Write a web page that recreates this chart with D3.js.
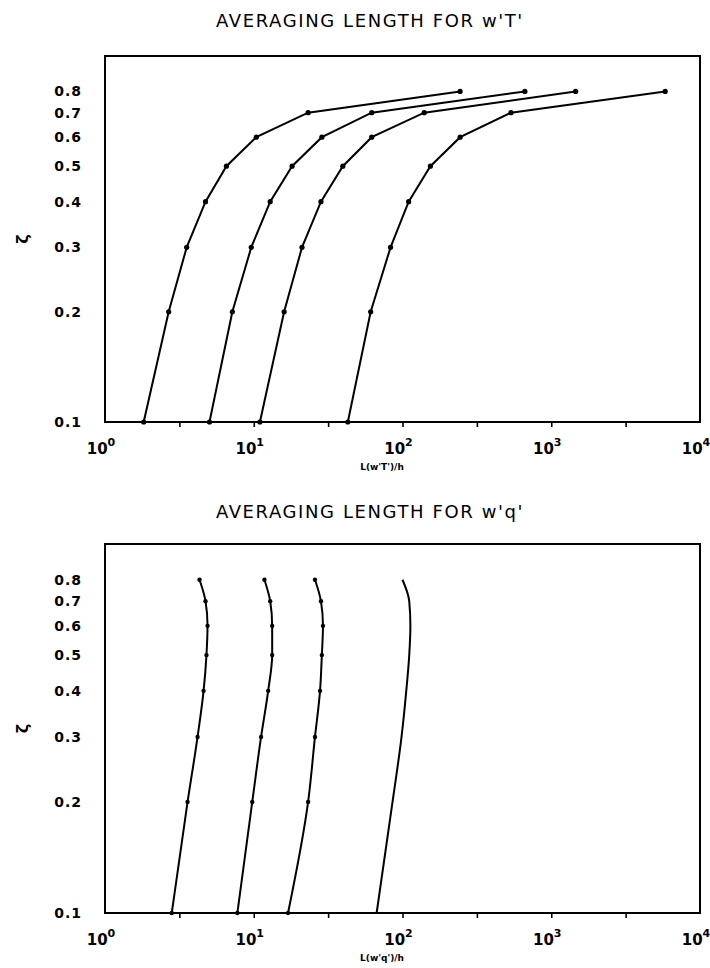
<!DOCTYPE html>
<html>
<head>
<meta charset="utf-8">
<script src="https://cdn.jsdelivr.net/npm/d3@7"></script>
<style>
  body { margin: 0; background: #fff; }
  svg { display: block; }
</style>
</head>
<body>
<div id="chart"></div>
<script>

// heights (xi) where the lengths were computed
var xiLevels = [0.1, 0.2, 0.3, 0.4, 0.5, 0.6, 0.7, 0.8];

// averaging length L(w'T')/h, one array per curve
var wtSeries1 = [1.82, 2.68, 3.54, 4.74, 6.55, 10.4, 23.2, 244];
var wtSeries2 = [5.04, 7.18, 9.62, 12.9, 18.1, 28.7, 62.1, 665];
var wtSeries3 = [11.0, 16.0, 21.1, 28.3, 39.7, 62.1, 140, 1459];
var wtSeries4 = [42.9, 61.1, 83.1, 110, 154, 244, 536, 5834];

// averaging length L(w'q')/h
var wqSeries1 = [2.81, 3.59, 4.19, 4.60, 4.81, 4.89, 4.74, 4.32];
var wqSeries2 = [7.76, 9.77, 11.2, 12.5, 13.3, 13.3, 12.9, 11.8];
var wqSeries3 = [17.0, 23.2, 25.8, 27.9, 28.7, 29.2, 28.3, 25.8];
var wqSeries4 = [67.0, 85.7, 98.5, 106, 111, 113, 111, 100];

var yTickLabels = [0.1, 0.2, 0.3, 0.4, 0.5, 0.6, 0.7, 0.8];
var xDecades = [0, 1, 2, 3, 4];
var xMinorTicks = [3.162, 10, 31.62, 100, 316.2, 1000, 3162];

var svgWidth = 710;
var svgHeight = 968;

var svg = d3.select("#chart")
    .append("svg")
    .attr("width", svgWidth)
    .attr("height", svgHeight);

var left = 105;
var right = 700;

function drawPanel(opts) {

    var xScale = d3.scaleLog()
        .domain([1, 1e4])
        .range([left, right]);

    var yScale = d3.scaleLog()
        .domain([0.1, 1])
        .range([opts.bottom, opts.top]);

    var g = svg.append("g");

    g.append("text")
        .attr("x", opts.titleX)
        .attr("y", opts.titleY)
        .attr("text-anchor", "middle")
        .attr("font-family", "DejaVu Sans")
        .attr("font-size", 18)
        .attr("letter-spacing", 1.6)
        .text(opts.title);

    // frame
    g.append("rect")
        .attr("x", left)
        .attr("y", opts.top)
        .attr("width", right - left)
        .attr("height", opts.bottom - opts.top)
        .attr("fill", "none")
        .attr("stroke", "#000")
        .attr("stroke-width", 2);

    var bottomAxis = d3.axisBottom(xScale)
        .tickValues(xMinorTicks)
        .tickSize(5)
        .tickFormat("");

    var xAxis = g.append("g")
        .attr("transform", `translate(0, ${opts.bottom})`)
        .call(bottomAxis);
    xAxis.select(".domain").remove();
    xAxis.selectAll("line").attr("stroke-width", 1.6);

    var xLabels = g.selectAll(null)
        .data(xDecades)
        .enter()
        .append("text")
        .attr("x", d => xScale(Math.pow(10, d)) - 4)
        .attr("y", opts.bottom + 32)
        .attr("text-anchor", "middle")
        .attr("font-family", "DejaVu Sans")
        .attr("font-weight", "bold")
        .attr("font-size", 15);
    xLabels.append("tspan").text("10");
    xLabels.append("tspan")
        .attr("dy", -8)
        .attr("font-size", 11)
        .text(d => d);

    g.append("text")
        .attr("x", opts.xTitleX)
        .attr("y", opts.bottom + 48)
        .attr("text-anchor", "middle")
        .attr("font-family", "DejaVu Sans")
        .attr("font-weight", "bold")
        .attr("font-size", 9)
        .text(opts.xTitle);

    g.selectAll(null)
        .data(yTickLabels)
        .enter()
        .append("text")
        .attr("x", 82)
        .attr("y", d => yScale(d))
        .attr("dy", "0.35em")
        .attr("text-anchor", "end")
        .attr("font-family", "DejaVu Sans")
        .attr("font-weight", "bold")
        .attr("font-size", 14)
        .attr("letter-spacing", 1)
        .text(d => d.toFixed(1));

    var yMid = (opts.top + opts.bottom) / 2;
    g.append("text")
        .attr("transform", `translate(22, ${yMid}) rotate(-90)`)
        .attr("text-anchor", "middle")
        .attr("dy", "0.35em")
        .attr("font-family", "DejaVu Sans")
        .attr("font-weight", "bold")
        .attr("font-size", 16)
        .text("ζ");

    opts.series.forEach(function(s) {
        var pts = s.values.map((v, i) => ({x: v, y: xiLevels[i]}));

        var line = d3.line()
            .x(d => xScale(d.x))
            .y(d => yScale(d.y))
            .curve(s.smooth ? d3.curveMonotoneY : d3.curveLinear);

        g.append("path")
            .datum(pts)
            .attr("d", line)
            .attr("fill", "none")
            .attr("stroke", "#000")
            .attr("stroke-width", 2);

        if (s.markers) {
            g.selectAll(null)
                .data(pts)
                .enter()
                .append("circle")
                .attr("cx", d => xScale(d.x))
                .attr("cy", d => yScale(d.y))
                .attr("r", opts.markerR)
                .attr("fill", "#000");
        }
    });
}

drawPanel({
    title: "AVERAGING LENGTH FOR w'T'",
    titleX: 370,
    titleY: 27,
    top: 56,
    bottom: 422,
    xTitle: "L(w'T')/h",
    xTitleX: 382,
    markerR: 2.6,
    series: [
        {values: wtSeries1, markers: true},
        {values: wtSeries2, markers: true},
        {values: wtSeries3, markers: true},
        {values: wtSeries4, markers: true}
    ]
});

drawPanel({
    title: "AVERAGING LENGTH FOR w'q'",
    titleX: 370,
    titleY: 518,
    top: 544,
    bottom: 913,
    xTitle: "L(w'q')/h",
    xTitleX: 382,
    markerR: 2.2,
    series: [
        {values: wqSeries1, markers: true, smooth: true},
        {values: wqSeries2, markers: true, smooth: true},
        {values: wqSeries3, markers: true, smooth: true},
        {values: wqSeries4, markers: false, smooth: true}
    ]
});

</script>
</body>
</html>
